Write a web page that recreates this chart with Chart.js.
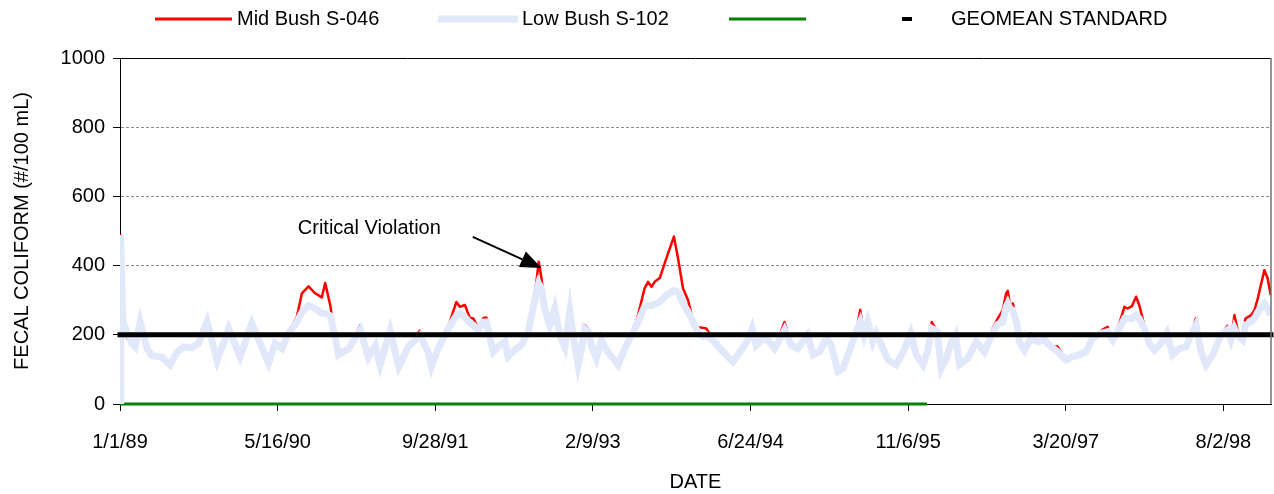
<!DOCTYPE html>
<html>
<head>
<meta charset="utf-8">
<script src="https://cdn.jsdelivr.net/npm/chart.js@4"></script>
<style>
html,body{margin:0;padding:0;background:#fff;}
#wrap{width:1274px;height:494px;position:relative;}
</style>
</head>
<body>
<div id="wrap"><canvas id="c" width="1274" height="494"></canvas></div>
<script>
// ---------- DATA ----------
const seriesNames = ['Mid Bush S-046', 'Low Bush S-102', '', 'GEOMEAN STANDARD'];
const xTickLabels = ['1/1/89', '5/16/90', '9/28/91', '2/9/93', '6/24/94', '11/6/95', '3/20/97', '8/2/98'];
const yTickValues = [0, 200, 400, 600, 800, 1000];
const axisTitleX = 'DATE';
const axisTitleY = 'FECAL COLIFORM (#/100 mL)';

// sample day (days since 1/1/89)
const sampleDays = [
  0, 2, 9, 22, 38, 48, 64, 86, 101, 133, 159, 181, 202, 228, 249, 276, 308, 345, 381, 418,
  471, 492, 514, 535, 561, 577, 598, 619, 640, 651, 667, 681, 693, 725, 762, 788, 810, 825, 857, 884,
  915, 951, 977, 988, 1009, 1036, 1067, 1078, 1094, 1110, 1120, 1136, 1152, 1162, 1184, 1205, 1221, 1231, 1252, 1273,
  1295, 1310, 1321, 1328, 1337, 1347, 1363, 1379, 1395, 1411, 1427, 1437, 1453, 1464, 1474, 1485, 1495, 1511, 1527, 1543,
  1559, 1580, 1601, 1628, 1643, 1664, 1675, 1686, 1696, 1712, 1733, 1757, 1770, 1786, 1802, 1818, 1834, 1850, 1860, 1886,
  1907, 1928, 1944, 1971, 1992, 2005, 2018, 2034, 2055, 2076, 2108, 2129, 2150, 2182, 2198, 2219, 2240, 2256, 2277, 2293,
  2320, 2335, 2348, 2360, 2372, 2388, 2399, 2420, 2436, 2462, 2489, 2508, 2526, 2547, 2561, 2575, 2592, 2605, 2621, 2637,
  2650, 2663, 2690, 2716, 2742, 2768, 2784, 2800, 2811, 2816, 2823, 2832, 2844, 2853, 2869, 2890, 2911, 2932, 2953, 2974,
  3001, 3022, 3043, 3064, 3085, 3101, 3115, 3133, 3149, 3170, 3186, 3196, 3210, 3223, 3233, 3249, 3265, 3281, 3302, 3321,
  3339, 3360, 3381, 3397, 3413, 3429, 3445, 3466, 3492, 3513, 3524, 3535, 3545, 3561, 3570, 3588, 3598, 3609, 3630, 3640,
  3650
];

// Low Bush S-102 (light blue, thick)
const lowBush = [
  0, 488, 240, 208, 175, 165, 237, 160, 140, 135, 113, 150, 165, 162, 175, 238, 125, 218, 137, 233,
  118, 175, 160, 205, 237, 265, 285, 276, 262, 262, 255, 200, 142, 160, 214, 135, 168, 113, 212, 108,
  166, 198, 151, 108, 160, 209, 256, 262, 251, 234, 228, 214, 237, 237, 151, 170, 180, 137, 156, 170,
  209, 276, 324, 348, 334, 276, 228, 276, 199, 165, 267, 199, 113, 160, 218, 210, 170, 132, 185, 156,
  137, 113, 160, 209, 237, 281, 285, 285, 288, 295, 314, 328, 324, 290, 266, 237, 205, 195, 199, 180,
  156, 137, 122, 156, 185, 218, 170, 185, 185, 160, 214, 170, 160, 199, 142, 151, 190, 170, 94, 103,
  170, 209, 237, 199, 237, 180, 204, 160, 127, 113, 160, 204, 142, 113, 151, 218, 209, 103, 132, 180,
  199, 113, 132, 180, 151, 205, 230, 237, 281, 290, 276, 271, 237, 180, 156, 190, 180, 185, 166, 151,
  127, 137, 142, 151, 190, 199, 205, 209, 185, 218, 247, 247, 247, 257, 247, 218, 175, 156, 175, 205,
  142, 160, 165, 199, 228, 151, 113, 142, 199, 214, 185, 218, 199, 185, 228, 237, 247, 266, 290, 276,
  257
];

// Mid Bush S-046 (red, thin)
const midBush = [
  0, 488, 240, 190, 175, 165, 252, 160, 140, 135, 105, 150, 165, 162, 175, 250, 125, 230, 137, 246,
  118, 175, 160, 205, 252, 320, 340, 320, 308, 350, 285, 200, 142, 160, 228, 135, 168, 113, 225, 108,
  166, 212, 151, 108, 160, 209, 295, 281, 286, 248, 248, 220, 248, 250, 151, 170, 180, 137, 156, 170,
  209, 295, 353, 411, 364, 286, 242, 291, 199, 165, 276, 199, 113, 160, 228, 218, 170, 132, 185, 156,
  137, 113, 160, 209, 257, 334, 353, 339, 353, 364, 421, 484, 421, 334, 300, 240, 222, 220, 218, 180,
  156, 137, 122, 156, 185, 218, 170, 185, 185, 160, 237, 170, 160, 209, 142, 151, 190, 180, 94, 103,
  170, 209, 272, 199, 257, 180, 204, 160, 127, 113, 160, 216, 142, 113, 151, 237, 209, 103, 132, 180,
  207, 113, 132, 180, 151, 218, 247, 271, 320, 327, 286, 291, 237, 180, 156, 204, 180, 185, 166, 166,
  127, 137, 142, 151, 190, 199, 214, 223, 185, 233, 281, 276, 283, 310, 286, 228, 175, 156, 175, 216,
  142, 160, 170, 199, 248, 151, 113, 142, 199, 226, 185, 257, 214, 185, 247, 257, 270, 305, 387, 364,
  315
];

// third (green) series and the standard line
const greenDays = [0, 2560];
const greenValues = [0, 0];
const standardDays = [0, 3651];
const standardValues = [200, 200];

// annotation (in data units)
const annotationText = 'Critical Violation';
const annotationTip = { day: 1337, value: 393 };
const annotationTail = { day: 1119, value: 483 };
const annotationLabel = { day: 564, value: 506 };

const xMinDay = 0;
const xMaxDay = 3651;

// ---------- HELPERS ----------
function dayOf(label) {
  const p = label.split('/').map(Number);
  return (Date.UTC(1900 + p[2], p[0] - 1, p[1]) - Date.UTC(1989, 0, 1)) / 864e5;
}
const zip = (xs, ys) => xs.map((x, i) => ({ x: x, y: ys[i] }));

const FONT = '"Liberation Sans", Arial, Helvetica, sans-serif';
Chart.defaults.font.family = FONT;
Chart.defaults.font.size = 20;
Chart.defaults.color = '#000';

// custom legend
const legendPlugin = {
  id: 'customLegend',
  afterDraw(chart) {
    const ctx = chart.ctx;
    const y = 19;
    const items = [
      { ds: 0, x0: 155, x1: 232, tx: 237, w: 3 },
      { ds: 1, x0: 438, x1: 518, tx: 522, w: 7 },
      { ds: 2, x0: 729, x1: 806, tx: null, w: 3 },
      { ds: 3, x0: 902, x1: 912, tx: 951, w: 4 }
    ];
    ctx.save();
    items.forEach(it => {
      const ds = chart.data.datasets[it.ds];
      ctx.strokeStyle = ds.borderColor;
      ctx.lineWidth = it.w;
      ctx.beginPath();
      ctx.moveTo(it.x0, y);
      ctx.lineTo(it.x1, y);
      ctx.stroke();
      if (it.tx !== null && ds.label) {
        ctx.fillStyle = '#000';
        ctx.font = '20px ' + FONT;
        ctx.textAlign = 'left';
        ctx.textBaseline = 'middle';
        ctx.fillText(ds.label, it.tx, y);
      }
    });
    ctx.restore();
  }
};

// plot border + annotation
const extrasPlugin = {
  id: 'extras',
  afterDatasetsDraw(chart) {
    const ctx = chart.ctx;
    const a = chart.chartArea;
    const xs = chart.scales.x, ys = chart.scales.y;
    ctx.save();
    ctx.strokeStyle = '#000';
    ctx.lineWidth = 1;
    ctx.beginPath();
    ctx.moveTo(a.left, Math.round(a.top) + 0.5);
    ctx.lineTo(a.right, Math.round(a.top) + 0.5);
    ctx.stroke();
    ctx.strokeStyle = '#707070';
    ctx.lineWidth = 1.5;
    ctx.beginPath();
    ctx.moveTo(a.right, a.top);
    ctx.lineTo(a.right, a.bottom);
    ctx.stroke();

    const tx = xs.getPixelForValue(annotationTip.day), ty = ys.getPixelForValue(annotationTip.value);
    const sx = xs.getPixelForValue(annotationTail.day), sy = ys.getPixelForValue(annotationTail.value);
    const ang = Math.atan2(ty - sy, tx - sx);
    const headLen = 21, headHalf = 8.5;
    const bx = tx - headLen * Math.cos(ang), by = ty - headLen * Math.sin(ang);
    ctx.strokeStyle = '#000';
    ctx.lineWidth = 2;
    ctx.beginPath();
    ctx.moveTo(sx, sy);
    ctx.lineTo(bx, by);
    ctx.stroke();
    ctx.fillStyle = '#000';
    ctx.beginPath();
    ctx.moveTo(tx, ty);
    ctx.lineTo(bx + headHalf * Math.sin(ang), by - headHalf * Math.cos(ang));
    ctx.lineTo(bx - headHalf * Math.sin(ang), by + headHalf * Math.cos(ang));
    ctx.closePath();
    ctx.fill();

    ctx.font = '20px ' + FONT;
    ctx.textAlign = 'left';
    ctx.textBaseline = 'middle';
    ctx.fillText(annotationText, xs.getPixelForValue(annotationLabel.day), ys.getPixelForValue(annotationLabel.value));
    ctx.restore();
  }
};

const lineBase = { pointRadius: 0, pointHoverRadius: 0, tension: 0, fill: false };

new Chart(document.getElementById('c'), {
  type: 'line',
  data: {
    datasets: [
      Object.assign({ label: seriesNames[0], data: zip(sampleDays, midBush), borderColor: '#FF0000', borderWidth: 2.5, borderJoinStyle: 'round', order: 2 }, lineBase),
      Object.assign({ label: seriesNames[1], data: zip(sampleDays, lowBush), borderColor: '#E1E8FA', borderWidth: 7, borderJoinStyle: 'miter', order: 1 }, lineBase),
      Object.assign({ label: seriesNames[2], data: zip(greenDays, greenValues), borderColor: '#008000', borderWidth: 3, clip: 4, order: 3 }, lineBase),
      Object.assign({ label: seriesNames[3], data: zip(standardDays, standardValues), borderColor: '#000000', borderWidth: 5, borderCapStyle: 'square', clip: 6, order: 0 }, lineBase)
    ]
  },
  options: {
    responsive: false,
    animation: false,
    devicePixelRatio: 1,
    layout: { padding: { top: 58, right: 3, left: 0, bottom: 0 } },
    plugins: { legend: { display: false }, tooltip: { enabled: false } },
    events: [],
    scales: {
      x: {
        type: 'linear',
        min: xMinDay,
        max: xMaxDay,
        afterBuildTicks: s => { s.ticks = xTickLabels.map(l => ({ value: dayOf(l) })); },
        afterFit: s => { s.height = 90; },
        ticks: {
          autoSkip: false, maxRotation: 0, padding: 19,
          callback: (v, i) => xTickLabels[i],
          font: { size: 20 }, color: '#000'
        },
        grid: { drawOnChartArea: false, drawTicks: true, tickLength: 7, tickColor: '#000', tickWidth: 1 },
        border: { color: '#000', width: 1 },
        title: { display: true, text: axisTitleX, font: { size: 20 }, color: '#000', padding: { top: 0, bottom: 0 } }
      },
      y: {
        type: 'linear',
        min: 0,
        max: 1000,
        afterBuildTicks: s => { s.ticks = yTickValues.map(v => ({ value: v })); },
        afterFit: s => { s.width = 120; },
        ticks: { padding: 8, font: { size: 20 }, color: '#000', callback: v => String(v) },
        grid: {
          color: c => (c.tick && (c.tick.value === 0 || c.tick.value === 1000)) ? 'rgba(0,0,0,0)' : '#8a8a8a',
          lineWidth: 1, tickLength: 7, tickColor: '#000', tickWidth: 1
        },
        border: { color: '#000', width: 1, dash: [3, 2] },
        title: { display: true, text: axisTitleY, font: { size: 20 }, color: '#000', padding: { top: 10, bottom: 0 } }
      }
    }
  },
  plugins: [legendPlugin, extrasPlugin]
});
</script>
</body>
</html>
